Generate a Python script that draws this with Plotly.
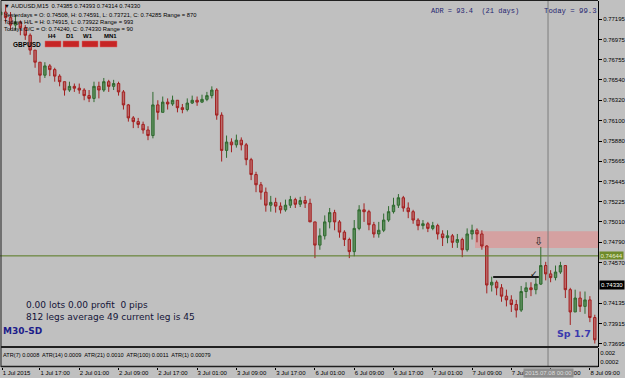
import plotly.graph_objects as go

# ---------------- data (hourly-equivalent candles) ----------------
open_ = [0.7724, 0.7727, 0.7721, 0.7713, 0.7716, 0.7710, 0.7702, 0.7686, 0.7673, 0.7659,
         0.7669, 0.7665, 0.7658, 0.7652, 0.7643, 0.7647, 0.7645, 0.7643, 0.7637, 0.7634,
         0.7647, 0.7643, 0.7652, 0.7647, 0.7650, 0.7641, 0.7627, 0.7613, 0.7609, 0.7606,
         0.7600, 0.7594, 0.7627, 0.7619, 0.7630, 0.7628, 0.7632, 0.7624, 0.7622, 0.7629,
         0.7632, 0.7630, 0.7633, 0.7637, 0.7643, 0.7616, 0.7578, 0.7587, 0.7584, 0.7589,
         0.7584, 0.7568, 0.7552, 0.7541, 0.7533, 0.7519, 0.7522, 0.7518, 0.7514, 0.7519,
         0.7525, 0.7520, 0.7524, 0.7521, 0.7501, 0.7476, 0.7486, 0.7501, 0.7511, 0.7501,
         0.7490, 0.7482, 0.7469, 0.7494, 0.7514, 0.7512, 0.7498, 0.7488, 0.7492, 0.7503,
         0.7512, 0.7519, 0.7527, 0.7516, 0.7512, 0.7503, 0.7497, 0.7499, 0.7494, 0.7497,
         0.7488, 0.7484, 0.7486, 0.7479, 0.7482, 0.7471, 0.7488, 0.7492, 0.7488, 0.7475,
         0.7433, 0.7436, 0.7430, 0.7421, 0.7417, 0.7412, 0.7406, 0.7426, 0.7430, 0.7428,
         0.7434, 0.7454, 0.7445, 0.7441, 0.7447, 0.7454, 0.7428, 0.7404, 0.7419, 0.7410,
         0.7417, 0.7398]
high_ = [0.7731, 0.7735, 0.7727, 0.7724, 0.7718, 0.7713, 0.7704, 0.7686, 0.7673, 0.7673,
         0.7671, 0.7667, 0.7660, 0.7652, 0.7652, 0.7650, 0.7650, 0.7645, 0.7643, 0.7652,
         0.7652, 0.7656, 0.7654, 0.7654, 0.7652, 0.7643, 0.7628, 0.7615, 0.7613, 0.7609,
         0.7604, 0.7641, 0.7632, 0.7636, 0.7634, 0.7637, 0.7632, 0.7628, 0.7634, 0.7637,
         0.7636, 0.7638, 0.7641, 0.7647, 0.7645, 0.7619, 0.7594, 0.7591, 0.7595, 0.7592,
         0.7586, 0.7570, 0.7555, 0.7544, 0.7538, 0.7529, 0.7527, 0.7522, 0.7525, 0.7529,
         0.7527, 0.7528, 0.7529, 0.7526, 0.7501, 0.7494, 0.7508, 0.7516, 0.7514, 0.7503,
         0.7492, 0.7484, 0.7503, 0.7519, 0.7521, 0.7514, 0.7501, 0.7501, 0.7510, 0.7518,
         0.7527, 0.7531, 0.7529, 0.7522, 0.7514, 0.7505, 0.7503, 0.7501, 0.7501, 0.7499,
         0.7492, 0.7492, 0.7488, 0.7488, 0.7484, 0.7494, 0.7498, 0.7494, 0.7492, 0.7476,
         0.7442, 0.7438, 0.7434, 0.7428, 0.7422, 0.7417, 0.7432, 0.7436, 0.7436, 0.7441,
         0.7474, 0.7458, 0.7449, 0.7454, 0.7458, 0.7454, 0.7430, 0.7428, 0.7426, 0.7426,
         0.7421, 0.7401]
low_ = [0.7718, 0.7716, 0.7708, 0.7708, 0.7702, 0.7697, 0.7681, 0.7667, 0.7651, 0.7656,
        0.7658, 0.7652, 0.7647, 0.7637, 0.7641, 0.7641, 0.7639, 0.7632, 0.7630, 0.7630,
        0.7634, 0.7641, 0.7641, 0.7643, 0.7637, 0.7622, 0.7609, 0.7602, 0.7602, 0.7596,
        0.7589, 0.7591, 0.7611, 0.7619, 0.7622, 0.7626, 0.7619, 0.7618, 0.7620, 0.7628,
        0.7626, 0.7629, 0.7631, 0.7634, 0.7611, 0.7566, 0.7570, 0.7576, 0.7581, 0.7578,
        0.7562, 0.7546, 0.7533, 0.7525, 0.7512, 0.7512, 0.7511, 0.7510, 0.7512, 0.7516,
        0.7516, 0.7517, 0.7516, 0.7501, 0.7462, 0.7471, 0.7482, 0.7494, 0.7492, 0.7484,
        0.7475, 0.7462, 0.7464, 0.7492, 0.7501, 0.7492, 0.7484, 0.7484, 0.7490, 0.7501,
        0.7510, 0.7516, 0.7512, 0.7505, 0.7499, 0.7492, 0.7493, 0.7490, 0.7492, 0.7482,
        0.7475, 0.7478, 0.7473, 0.7473, 0.7463, 0.7469, 0.7482, 0.7479, 0.7471, 0.7424,
        0.7426, 0.7422, 0.7415, 0.7410, 0.7404, 0.7398, 0.7404, 0.7419, 0.7421, 0.7423,
        0.7433, 0.7438, 0.7436, 0.7438, 0.7445, 0.7419, 0.7390, 0.7404, 0.7404, 0.7402,
        0.7393, 0.7370]
close_ = [0.7727, 0.7721, 0.7713, 0.7716, 0.7710, 0.7702, 0.7686, 0.7673, 0.7659, 0.7669,
          0.7665, 0.7658, 0.7652, 0.7643, 0.7647, 0.7645, 0.7643, 0.7637, 0.7634, 0.7647,
          0.7643, 0.7652, 0.7647, 0.7650, 0.7641, 0.7627, 0.7613, 0.7609, 0.7606, 0.7600,
          0.7594, 0.7627, 0.7619, 0.7630, 0.7628, 0.7632, 0.7624, 0.7622, 0.7629, 0.7632,
          0.7630, 0.7633, 0.7637, 0.7643, 0.7616, 0.7578, 0.7587, 0.7584, 0.7589, 0.7584,
          0.7568, 0.7552, 0.7541, 0.7533, 0.7519, 0.7522, 0.7518, 0.7514, 0.7519, 0.7525,
          0.7520, 0.7524, 0.7521, 0.7501, 0.7476, 0.7486, 0.7501, 0.7511, 0.7501, 0.7490,
          0.7482, 0.7469, 0.7494, 0.7514, 0.7512, 0.7498, 0.7488, 0.7492, 0.7503, 0.7512,
          0.7519, 0.7527, 0.7516, 0.7512, 0.7503, 0.7497, 0.7499, 0.7494, 0.7497, 0.7488,
          0.7484, 0.7486, 0.7479, 0.7482, 0.7471, 0.7488, 0.7492, 0.7488, 0.7475, 0.7433,
          0.7436, 0.7430, 0.7421, 0.7417, 0.7412, 0.7406, 0.7426, 0.7430, 0.7428, 0.7434,
          0.7454, 0.7445, 0.7441, 0.7447, 0.7454, 0.7428, 0.7404, 0.7419, 0.7410, 0.7417,
          0.7398, 0.7374]

time_labels = ["1 Jul 2015", "1 Jul 17:00", "2 Jul 01:00", "2 Jul 09:00", "2 Jul 17:00",
               "3 Jul 01:00", "3 Jul 09:00", "3 Jul 17:00", "6 Jul 01:00", "6 Jul 09:00",
               "6 Jul 17:00", "7 Jul 01:00", "7 Jul 09:00", "7 Jul 17:00", "8 Jul 01:00",
               "8 Jul 09:00"]
price_ticks = ["0.77195", "0.76975", "0.76755", "0.76540", "0.76320", "0.76100", "0.75880",
               "0.75665", "0.75445", "0.75225", "0.75010", "0.74790", "0.74570", "0.74135",
               "0.73915", "0.73695"]
atr_ticks = ["0.002", "0.0002"]

level_line = 0.74644
current_price = 0.74330
zone_low, zone_high = 0.7473, 0.7491
leg_level = 0.74417

header_lines = [
    "▼ AUDUSD,M15  0.74385 0.74393 0.74314 0.74330",
    "Yesterdays = O: 0.74508, H: 0.74591, L: 0.73721, C: 0.74285 Range = 870",
    "Todays H/L = H: 0.74915, L: 0.73922 Range = 993",
    "Todays O/C = O: 0.74240, C: 0.74330 Range = 90",
]
tf_labels = ["H4", "D1", "W1", "MN1"]

# ---------------- helpers (pixel -> paper) ----------------
W, H = 625, 378
def px(x):
    return x / W
def py(y):
    return 1 - y / H

BG = "#c0c0c0"
bars = list(range(len(close_)))
tick_pos = [0.3] + [8 * k for k in range(1, len(time_labels))]

fig = go.Figure()
fig.add_trace(go.Candlestick(
    x=bars, open=open_, high=high_, low=low_, close=close_,
    increasing=dict(line=dict(color="#2f6a2f", width=1), fillcolor="#5e8f5e"),
    decreasing=dict(line=dict(color="#a31f1f", width=1), fillcolor="#bb6b6b"),
    whiskerwidth=0, showlegend=False, hoverinfo="skip", xaxis="x", yaxis="y"))
fig.add_trace(go.Scatter(x=[0], y=[None], xaxis="x2", yaxis="y2", mode="lines",
                         showlegend=False, hoverinfo="skip"))

small = dict(family="Liberation Sans", size=6, color="#000000")
fig.update_layout(
    width=W, height=H, margin=dict(l=0, r=0, t=0, b=0, autoexpand=False),
    paper_bgcolor=BG, plot_bgcolor=BG, showlegend=False,
    xaxis=dict(domain=[px(1), px(598)], range=[0.06, 121.65], showticklabels=False,
               showgrid=False, zeroline=False, showline=False, ticks="", automargin=False,
               rangeslider=dict(visible=False), anchor="y"),
    yaxis=dict(domain=[py(346.5), py(1)], range=[0.73668, 0.77389], side="right", anchor="x",
               tickvals=[float(t) for t in price_ticks], ticktext=price_ticks, automargin=False,
               ticks="outside", ticklen=3, tickcolor="#000", tickwidth=1, tickfont=small,
               showgrid=False, zeroline=False, showline=True, linecolor="#000", linewidth=1),
    xaxis2=dict(domain=[px(1), px(598)], matches="x", anchor="y2", automargin=False,
                tickvals=tick_pos, ticktext=time_labels, ticks="outside", ticklen=2, tickangle=0,
                tickcolor="#000", ticklabelposition="outside right", tickfont=small,
                showgrid=False, zeroline=False, showline=False),
    yaxis2=dict(domain=[py(366.5), py(348)], range=[-0.0007, 0.003], side="right", anchor="x2",
                tickvals=[float(t) for t in atr_ticks], ticktext=atr_ticks, ticks="",
                automargin=False, tickfont=small, showgrid=False, zeroline=False, showline=True,
                linecolor="#000", linewidth=1),
)

shapes = []
# supply/demand zone
shapes.append(dict(type="rect", xref="x", yref="y", x0=96.6, x1=121.65, y0=zone_low, y1=zone_high,
                   fillcolor="#d5a1a1", line=dict(width=0), layer="below"))
# level line
shapes.append(dict(type="line", xref="paper", yref="y", x0=px(0), x1=px(598), y0=level_line,
                   y1=level_line, line=dict(color="#55781e", width=1)))
# leg line
shapes.append(dict(type="line", xref="x", yref="y", x0=100.3, x1=109.6, y0=leg_level, y1=leg_level,
                   line=dict(color="#1a1a1a", width=2)))
# crosshair vertical
shapes.append(dict(type="line", xref="x", yref="paper", x0=111.47, x1=111.47, y0=py(367), y1=1,
                   line=dict(color="#7c7c7c", width=1)))
# frames
shapes.append(dict(type="line", xref="paper", yref="paper", x0=px(1), x1=px(1), y0=py(367), y1=py(0.5),
                   line=dict(color="#202020", width=1)))
shapes.append(dict(type="line", xref="paper", yref="paper", x0=px(1), x1=px(598), y0=py(0.5), y1=py(0.5),
                   line=dict(color="#202020", width=1)))
shapes.append(dict(type="line", xref="paper", yref="paper", x0=px(1), x1=px(598), y0=py(347), y1=py(347),
                   line=dict(color="#202020", width=2)))
shapes.append(dict(type="line", xref="paper", yref="paper", x0=px(1), x1=px(598), y0=py(366.5), y1=py(366.5),
                   line=dict(color="#202020", width=1.5)))
# trend boxes (header)
for x0, x1 in [(45, 61), (63, 79), (82, 98), (100, 117)]:
    shapes.append(dict(type="rect", xref="paper", yref="paper", x0=px(x0), x1=px(x1),
                       y0=py(47), y1=py(41), fillcolor="#c62525", line=dict(color="#d86a6a", width=0.5)))
fig.update_layout(shapes=shapes)

ann = []
def text(x, y, s, size=6, color="#000", family="Liberation Sans", bold=False, anchor="left", **kw):
    if bold:
        s = "<b>" + s + "</b>"
    ann.append(dict(xref="paper", yref="paper", x=px(x), y=py(y), text=s, showarrow=False,
                    xanchor=anchor, yanchor="middle", font=dict(family=family, size=size, color=color),
                    borderpad=0, **kw))

for line, yy in zip(header_lines, [5.7, 14.7, 21.9, 29.3]):
    text(3, yy, line, size=5.8)
for lab, cx in zip(tf_labels, [51.7, 70, 88.3, 110]):
    text(cx, 36.5, lab, size=6, bold=True, anchor="center")
text(12, 44, "GBPUSD", size=6.5, bold=True)

text(430, 10.5, "ADR = 93.4  (21 days)", size=7, color="#262670", family="Liberation Mono")
text(543, 10.5, "Today = 99.3", size=7.3, color="#262670", family="Liberation Mono")

text(25, 304.5, "0.00 lots 0.00 profit  0 pips", size=9, color="#141438", family="DejaVu Sans")
text(25, 316.8, "812 legs average 49 current leg is 45", size=9, color="#141438", family="DejaVu Sans")
text(2, 331, "M30-SD", size=9, color="#1c1c8a", family="DejaVu Sans", bold=True)
text(556, 333, "Sp 1.7", size=9.5, color="#3a3aae", family="DejaVu Sans", bold=True)
text(2, 355, "ATR(7) 0.0008  ATR(14) 0.0009  ATR(21) 0.0010  ATR(100) 0.0011  ATR(1) 0.00079", size=5.6)

# symbols
text(534, 273.5, "✓", size=9, color="#101010", family="DejaVu Sans", anchor="center")
text(538.5, 241, "⇩", size=11, color="#202020", family="DejaVu Sans", anchor="center")

# price boxes on the axis
ann.append(dict(xref="paper", yref="y", x=px(599), y=level_line, text=f"{level_line:.5f}",
                showarrow=False, xanchor="left", yanchor="middle", bgcolor="#6e8a2a",
                font=dict(family="Liberation Sans", size=6, color="#e8f0d0"), borderpad=0.5))
ann.append(dict(xref="paper", yref="y", x=px(599), y=current_price, text=f"{current_price:.5f}",
                showarrow=False, xanchor="left", yanchor="middle", bgcolor="#000000",
                font=dict(family="Liberation Sans", size=6, color="#ffffff"), borderpad=1))
# crosshair time box
ann.append(dict(xref="paper", yref="paper", x=px(548.5), y=py(372.5), text="2015.07.08 00:00",
                showarrow=False, xanchor="center", yanchor="middle", bgcolor="#8e8e8e",
                font=dict(family="Liberation Sans", size=6, color="#dcdcdc"), borderpad=1))
fig.update_layout(annotations=ann)

fig.write_html("out.html")
